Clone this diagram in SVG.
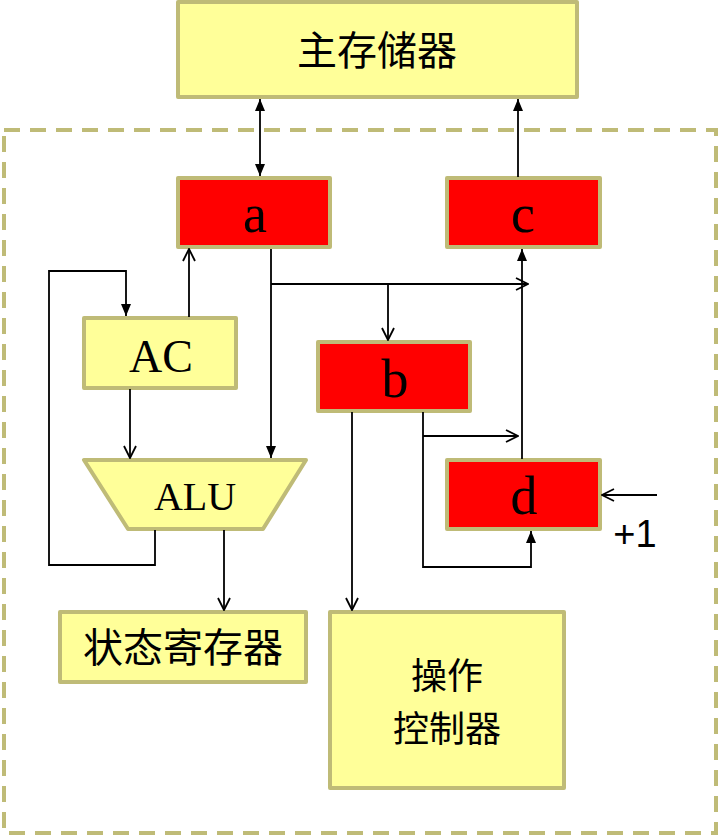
<svg xmlns="http://www.w3.org/2000/svg" width="719" height="837" viewBox="0 0 719 837">
<style>
.y{fill:#FFFF99;stroke:#BFBB77;stroke-width:4;stroke-linejoin:round}
.r{fill:#FF0000;stroke:#BFBB77;stroke-width:4;stroke-linejoin:round}
.cn{font-family:"Noto Sans CJK SC",sans-serif;font-size:40px;fill:#000;text-anchor:middle}
.lt{font-family:"Liberation Serif",serif;fill:#000;text-anchor:middle}
.c path{fill:none;stroke:#000;stroke-width:1.8}
.f{marker-end:url(#tri)}
.o{marker-end:url(#vee)}
</style>
<defs>
<marker id="tri" viewBox="0 0 12 10" refX="12" refY="5" markerWidth="12" markerHeight="10" markerUnits="userSpaceOnUse" orient="auto-start-reverse"><path d="M0,0 L12,5 L0,10 z" fill="#000"/></marker>
<marker id="vee" viewBox="0 0 14 14" refX="13" refY="7" markerWidth="14" markerHeight="14" markerUnits="userSpaceOnUse" orient="auto"><path d="M1,1 L13,7 L1,13" fill="none" stroke="#000" stroke-width="1.8"/></marker>
</defs>
<rect x="4" y="130" width="712" height="703" fill="none" stroke="#BFBB77" stroke-width="4" stroke-dasharray="16,10"/>
<g id="mem"><rect class="y" x="178" y="2" width="399" height="95"/><text class="cn" x="377" y="65">主存储器</text></g>
<g id="a"><rect class="r" x="178" y="178" width="152" height="69"/><text class="lt" x="255" y="232" font-size="54">a</text></g>
<g id="c"><rect class="r" x="447" y="178" width="153" height="69"/><text class="lt" x="523" y="232" font-size="54">c</text></g>
<g id="AC"><rect class="y" x="84" y="318" width="152" height="70"/><text class="lt" x="161" y="372" font-size="46">AC</text></g>
<g id="b"><rect class="r" x="318" y="342" width="152" height="69"/><text class="lt" x="395" y="397" font-size="54">b</text></g>
<g id="ALU"><polygon class="y" points="84,460 306,460 263,529 128,529"/><text class="lt" x="195" y="510" font-size="40">ALU</text></g>
<g id="d"><rect class="r" x="447" y="460" width="153" height="69"/><text class="lt" x="524" y="514" font-size="54">d</text></g>
<g id="status"><rect class="y" x="60" y="612" width="246" height="70"/><text class="cn" x="183" y="662">状态寄存器</text></g>
<g id="ctrl"><rect class="y" x="330" y="612" width="234" height="176"/><text class="cn" x="447" y="689" style="font-size:36px">操作</text><text class="cn" x="447" y="742" style="font-size:36px">控制器</text></g>
<text x="635" y="547" font-family="Liberation Sans,sans-serif" font-size="38" text-anchor="middle" fill="#000">+1</text>
<g class="c" id="connectors">
<path d="M260,99 V176" marker-start="url(#tri)" marker-end="url(#tri)"/>
<path class="f" d="M518,177 V99"/>
<path class="f" d="M155,530 V565 H49 V271 H126 V316"/>
<path class="o" d="M189,317 V249"/>
<path class="o" d="M130,389 V458"/>
<path class="f" d="M271,249 V458"/>
<path class="o" d="M271,284 H528"/>
<path class="o" d="M388,284 V340"/>
<path class="f" d="M522,459 V249"/>
<path class="f" d="M423,412 V567 H531 V531"/>
<path class="o" d="M423,436 H518"/>
<path class="o" d="M352,412 V610"/>
<path class="o" d="M224,530 V610"/>
<path class="o" d="M657,495 H602"/>
</g>
</svg>
